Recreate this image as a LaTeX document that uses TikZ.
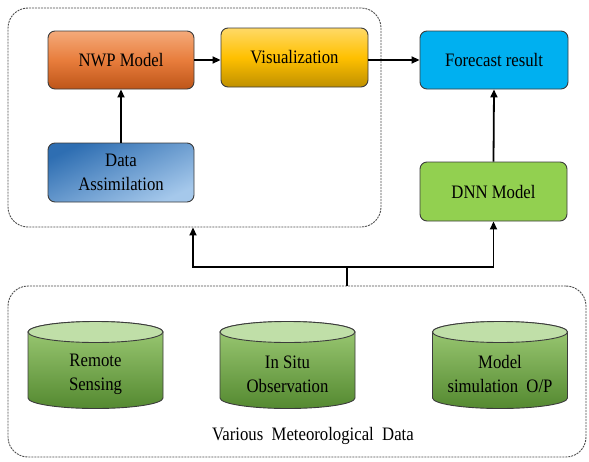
\documentclass[tikz,border=0pt]{standalone}
\usepackage{fontspec}
\setmainfont{Liberation Serif}[FakeStretch=0.88]
\usetikzlibrary{arrows.meta}

\definecolor{nwpTop}{RGB}{244,170,122}
\definecolor{nwpMid}{RGB}{232,125,60}
\definecolor{nwpBot}{RGB}{190,85,25}
\definecolor{visTop}{RGB}{255,217,102}
\definecolor{visMid}{RGB}{255,192,0}
\definecolor{visBot}{RGB}{191,144,0}
\definecolor{daDark}{RGB}{46,110,178}
\definecolor{daLight}{RGB}{165,200,235}
\definecolor{fcBlue}{RGB}{0,176,240}
\definecolor{dnnGreen}{RGB}{146,208,80}
\definecolor{cylTop}{RGB}{160,205,120}
\definecolor{cylBot}{RGB}{84,137,48}
\definecolor{cylCap}{RGB}{192,223,168}
\definecolor{edge}{RGB}{60,60,60}

% one data store: name, centre x, label
\newcommand\datastore[3]{%
  \path[draw=edge, line width=0.9pt, top color=cylTop, bottom color=cylBot]
    (#2-67.5,332) -- (#2-67.5,398)
    arc[start angle=180, end angle=360, x radius=67.5pt, y radius=10.5pt]
    -- (#2+67.5,332)
    arc[start angle=0, end angle=180, x radius=67.5pt, y radius=10.5pt] -- cycle;
  \path[draw=edge, line width=0.9pt, fill=cylCap]
    (#2,332) ellipse[x radius=67.5pt, y radius=10.5pt];
  \node[txt, align=center] (#1) at (#2,374) {#3};
}

\begin{document}
\begin{tikzpicture}[x=1pt, y=-1pt,
  txt/.style={font=\fontsize{19}{24}\selectfont, text=black, inner sep=0pt},
  group/.style={draw=black!70, line width=0.9pt, dash pattern=on 2pt off 1pt,
    rounded corners=20pt, inner sep=0pt},
  blk/.style={txt, draw=edge, line width=0.9pt, rounded corners=7pt,
    minimum width=146pt, minimum height=58pt, align=center},
  wire/.style={line width=1.8pt},
  link/.style={wire, -{Triangle[length=8pt, width=7pt]}}]

\useasboundingbox (0,0) rectangle (589,461);

% dashed groups
\node[group, minimum width=373pt, minimum height=219pt] (nwpgroup) at (194.5,117.5) {};
\node[group, minimum width=578pt, minimum height=171pt] (datagroup) at (297,371.5) {};

% processing blocks
\node[blk, top color=nwpTop, bottom color=nwpBot, middle color=nwpMid] (nwp) at (121,60) {NWP Model};
\node[blk, minimum width=147pt, minimum height=59pt, top color=visTop, bottom color=visBot, middle color=visMid] (vis) at (294.5,57.5) {Visualization};
\node[blk, minimum height=59pt, top color=daDark, bottom color=daLight, shading angle=25] (da) at (121,172.5) {Data\\Assimilation};
\node[blk, minimum width=148pt, fill=fcBlue] (fc) at (494,60) {Forecast result};
\node[blk, minimum width=147pt, minimum height=59pt, fill=dnnGreen] (dnn) at (493.5,191.5) {DNN Model};

% data sources
\datastore{rs}{95.5}{Remote\\Sensing}
\datastore{iso}{287.5}{In Situ\\Observation}
\datastore{msim}{500}{Model\\simulation\ \ O/P}
\node[txt] (vmd) at (313,436) {Various\ \ Meteorological\ \ Data};

% connectors
\draw[link] (nwp.east) -- (nwp.east -| vis.west);
\draw[link] (vis.east |- fc.west) -- (fc.west);
\draw[link] (da.north) -- (nwp.south);
\draw[link] (dnn.north) -- (fc.south);

\coordinate (junction) at (347,267);
\coordinate (leftturn) at (193,267);
\coordinate (rightturn) at (dnn.south |- junction);
\draw[wire] (datagroup.north -| junction) -- (junction);
\draw[link] (junction) -- (leftturn) -- (leftturn |- nwpgroup.south);
\draw[link] (junction) -- (rightturn) -- (dnn.south);
\end{tikzpicture}
\end{document}
